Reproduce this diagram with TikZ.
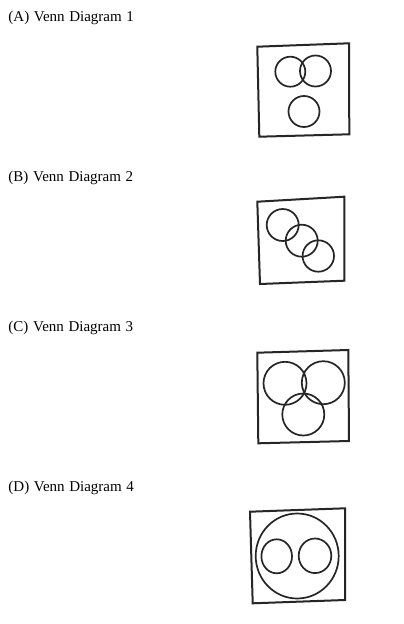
\documentclass[tikz,border=0pt]{standalone}
\usepackage{fontspec}
\setmainfont{Liberation Serif}
\newcommand\myLabFont{\fontsize{15}{17}\selectfont\spaceskip=4.6pt\relax}
\begin{document}
\begin{tikzpicture}[x=1pt,y=-1pt,
  frame/.style={draw=black!85,line width=2pt,line join=miter},
  ring/.style={draw=black!85,line width=1.7pt},
  lab/.style={anchor=base west,inner sep=0pt,font=\myLabFont}]
\useasboundingbox (0,0) rectangle (404,624);
\fill[white] (0,0) rectangle (404,624);
% labels
\node[lab] (la) at (8.3,21.5) {(A) Venn Diagram 1};
\node[lab] (lb) at (8.3,181.5) {(B) Venn Diagram 2};
\node[lab] (lc) at (8.3,331.5) {(C) Venn Diagram 3};
\node[lab] (ld) at (8.3,491.5) {(D) Venn Diagram 4};
% (A)
\draw[frame] (257.3,46.7) -- (349,43.3) -- (349.3,134.3) -- (259.3,136.7) -- cycle;
\draw[ring] (290.3,71.7) circle (15);
\draw[ring] (315.5,71) circle (15.5);
\draw[ring] (304,111.5) circle (15.5);
% (B)
\draw[frame] (257.3,201.7) -- (344.3,196.7) -- (344.3,280.7) -- (260,284) -- cycle;
\draw[ring] (282.7,225) circle (16);
\draw[ring] (301.7,240.7) circle (16);
\draw[ring] (318.3,256) circle (15.7);
% (C)
\draw[frame] (257.3,352.7) -- (348.3,350) -- (349,441) -- (258.3,443.3) -- cycle;
\draw[ring] (285,383.3) circle (21.5);
\draw[ring] (323.3,382.7) circle (21.5);
\draw[ring] (303.3,414.5) circle (21);
% (D)
\draw[frame] (250,511.7) -- (345,508.3) -- (345,600) -- (252.7,603.3) -- cycle;
\draw[ring] (297.2,556) ellipse (41.5 and 42.5);
\draw[ring] (276.7,556.3) ellipse (15.3 and 17);
\draw[ring] (315,555.8) ellipse (16.3 and 17.3);
\end{tikzpicture}
\end{document}
